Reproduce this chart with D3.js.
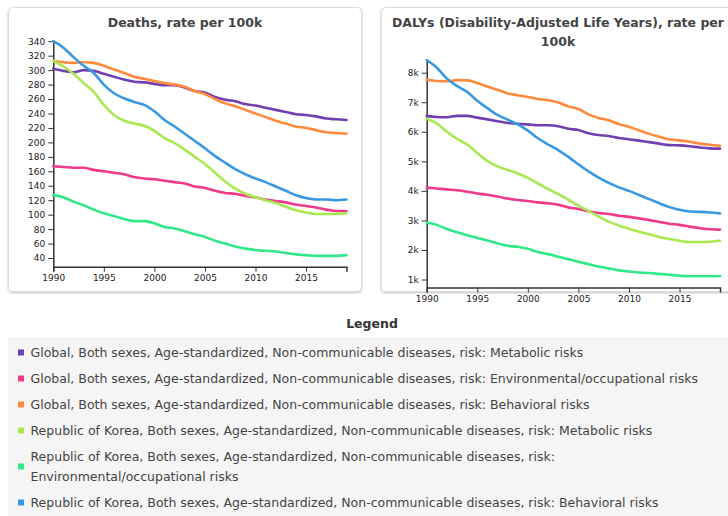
<!DOCTYPE html>
<html><head><meta charset="utf-8">
<script src="https://cdn.jsdelivr.net/npm/d3@7"></script>
<style>
html,body{margin:0;padding:0;background:#fff;}
svg{display:block;}
</style></head>
<body>
<svg id="c" width="728" height="516"></svg>
<script>
const years = d3.range(1990, 2020);
const seriesNames = [
  "Global, Both sexes, Age-standardized, Non-communicable diseases, risk: Metabolic risks",
  "Global, Both sexes, Age-standardized, Non-communicable diseases, risk: Environmental/occupational risks",
  "Global, Both sexes, Age-standardized, Non-communicable diseases, risk: Behavioral risks",
  "Republic of Korea, Both sexes, Age-standardized, Non-communicable diseases, risk: Metabolic risks",
  "Republic of Korea, Both sexes, Age-standardized, Non-communicable diseases, risk: Environmental/occupational risks",
  "Republic of Korea, Both sexes, Age-standardized, Non-communicable diseases, risk: Behavioral risks"
];
const colors = ["#7040b0", "#f0388c", "#ff8a3c", "#a8e850", "#30e888", "#3898e0"];

// Deaths, rate per 100k
const deathsGlobalMetabolic = [302,299,297,300,299,295,291,287,284,283,281,279,279,276,271,269,263,259,257,253,251,248,245,242,239,238,236,233,232,231];
const deathsGlobalEnv = [167,166,165,165,162,160,158,156,152,150,149,147,145,143,139,137,133,130,129,126,124,121,119,117,114,112,110,107,105,105];
const deathsGlobalBehav = [313,311,310,311,310,306,301,296,291,288,285,282,280,277,271,267,260,254,250,245,240,235,230,226,222,220,217,214,213,212];
const deathsKorMetabolic = [313,305,295,282,270,252,238,230,226,223,216,206,199,190,180,170,158,146,136,129,124,120,116,111,106,103,101,101,101,102];
const deathsKorEnv = [127,124,118,113,107,102,98,94,91,91,88,83,81,77,73,69,64,60,56,53,51,50,49,47,45,44,43,43,43,44];
const deathsKorBehav = [340,331,318,306,296,280,268,261,256,252,243,231,222,212,202,192,181,172,163,156,150,145,139,133,127,123,121,121,120,121];

// DALYs, rate per 100k
const dalysGlobalMetabolic = [6540,6500,6490,6540,6540,6480,6420,6360,6300,6270,6250,6220,6220,6190,6100,6060,5950,5890,5860,5790,5750,5700,5650,5600,5550,5540,5510,5470,5440,5430];
const dalysGlobalEnv = [4110,4080,4050,4020,3970,3910,3870,3810,3740,3690,3660,3610,3580,3530,3440,3390,3310,3250,3220,3160,3120,3070,3010,2950,2890,2850,2790,2740,2700,2690];
const dalysGlobalBehav = [7760,7720,7710,7750,7740,7650,7530,7420,7300,7240,7180,7110,7070,6990,6860,6770,6590,6470,6390,6260,6170,6050,5930,5830,5740,5710,5660,5600,5560,5530];
const dalysKorMetabolic = [6440,6280,6000,5760,5570,5280,5010,4830,4710,4590,4440,4250,4060,3890,3700,3500,3320,3130,2960,2830,2720,2620,2530,2440,2370,2310,2270,2270,2280,2310];
const dalysKorEnv = [2930,2850,2710,2600,2500,2410,2320,2230,2140,2110,2040,1930,1860,1770,1690,1600,1520,1440,1370,1310,1270,1240,1220,1190,1160,1130,1110,1110,1110,1120];
const dalysKorBehav = [8430,8170,7800,7550,7350,7050,6800,6570,6410,6250,6040,5780,5570,5380,5150,4900,4660,4450,4270,4120,4000,3860,3720,3580,3450,3360,3300,3290,3270,3240];

const deathsTicks = d3.range(40, 341, 20);
const dalysTicks = [1000,2000,3000,4000,5000,6000,7000,8000];
const xTicks = [1990,1995,2000,2005,2010,2015];

const deathsSeries = [deathsGlobalMetabolic, deathsGlobalEnv, deathsGlobalBehav, deathsKorMetabolic, deathsKorEnv, deathsKorBehav];
const dalysSeries = [dalysGlobalMetabolic, dalysGlobalEnv, dalysGlobalBehav, dalysKorMetabolic, dalysKorEnv, dalysKorBehav];

const svg = d3.select("#c");
const defs = svg.append("defs");
const f = defs.append("filter").attr("id","sh").attr("x","-5%").attr("y","-5%").attr("width","110%").attr("height","110%");
f.append("feDropShadow").attr("dx",0).attr("dy",1).attr("stdDeviation",1.2).attr("flood-color","#000").attr("flood-opacity",0.25);

function panel(o) {
  const g = svg.append("g");
  g.append("rect").attr("x", o.px).attr("y", o.py).attr("width", o.pw).attr("height", o.ph)
    .attr("rx", 4).attr("fill", "#fff").attr("stroke", "#dcdcdc").attr("filter","url(#sh)");
  o.title.forEach((t, i) => {
    g.append("text").attr("x", o.tx).attr("y", 27 + i * 19).attr("text-anchor", "middle")
      .attr("font-family", "DejaVu Sans, sans-serif").attr("font-weight", "bold")
      .attr("font-size", 12.5).attr("fill", "#444").text(t);
  });
  const x = d3.scaleLinear().domain([1990, 2019]).range([o.x0, o.x1]);
  const y = d3.scaleLinear().domain(o.yDomain).range([o.yb, o.yt]);
  const xa = g.append("g").attr("transform", `translate(0,${o.yb})`)
    .call(d3.axisBottom(x).tickValues(xTicks).tickFormat(d3.format("d")).tickSize(5).tickSizeOuter(5));
  const ya = g.append("g").attr("transform", `translate(${o.x0},0)`)
    .call(d3.axisLeft(y).tickValues(o.yTicks).tickFormat(o.yFmt).tickSize(5).tickSizeOuter(0));
  [xa, ya].forEach(a => {
    a.selectAll("path").attr("stroke", "#333").attr("stroke-width", 1.5);
    a.selectAll("line").attr("stroke", "#333");
    a.selectAll("text").attr("font-family", "DejaVu Sans, sans-serif").attr("font-size", 9).attr("fill", "#222");
  });
  const line = d3.line().x((d, i) => x(years[i])).y(d => y(d)).curve(d3.curveMonotoneX);
  o.series.forEach((s, i) => {
    g.append("path").attr("d", line(s)).attr("fill", "none").attr("stroke", colors[i])
      .attr("stroke-width", 2.6).attr("stroke-linejoin","round").attr("stroke-linecap","round");
  });
}

panel({px: 8.5, py: 7.5, pw: 353, ph: 284, tx: 185, title: ["Deaths, rate per 100k"],
  x0: 53.3, x1: 346.5, yb: 266.7, yt: 40.5, yDomain: [28, 341], yTicks: deathsTicks,
  yFmt: d3.format("d"), series: deathsSeries});
panel({px: 381.5, py: 7.5, pw: 355, ph: 284, tx: 558, title: ["DALYs (Disability-Adjusted Life Years), rate per", "100k"],
  x0: 426.7, x1: 720, yb: 287.5, yt: 60, yDomain: [730, 8430], yTicks: dalysTicks,
  yFmt: d => (d / 1000) + "k", series: dalysSeries});

// Legend
svg.append("text").attr("x", 372).attr("y", 328).attr("text-anchor", "middle")
  .attr("font-family", "DejaVu Sans, sans-serif").attr("font-weight", "bold")
  .attr("font-size", 12.5).attr("fill", "#333").text("Legend");
svg.append("rect").attr("x", 8).attr("y", 337).attr("width", 720).attr("height", 179).attr("fill", "#f5f5f5");
const legendLines = [
  [seriesNames[0]], [seriesNames[1]], [seriesNames[2]], [seriesNames[3]],
  ["Republic of Korea, Both sexes, Age-standardized, Non-communicable diseases, risk:", "Environmental/occupational risks"],
  [seriesNames[5]]
];
let ly = 353;
legendLines.forEach((ls, i) => {
  const g = svg.append("g");
  const mid = ly + (ls.length - 1) * 10;
  g.append("rect").attr("x", 18).attr("y", mid - 3.5).attr("width", 6).attr("height", 6).attr("fill", colors[i]);
  ls.forEach((t, j) => {
    g.append("text").attr("x", 30.5).attr("y", ly + j * 20).attr("dy", "0.35em")
      .attr("font-family", "DejaVu Sans, sans-serif").attr("font-size", 12.5)
      .attr("fill", "#444").text(t);
  });
  ly += 26 + (ls.length - 1) * 20;
});
</script>
</body></html>
